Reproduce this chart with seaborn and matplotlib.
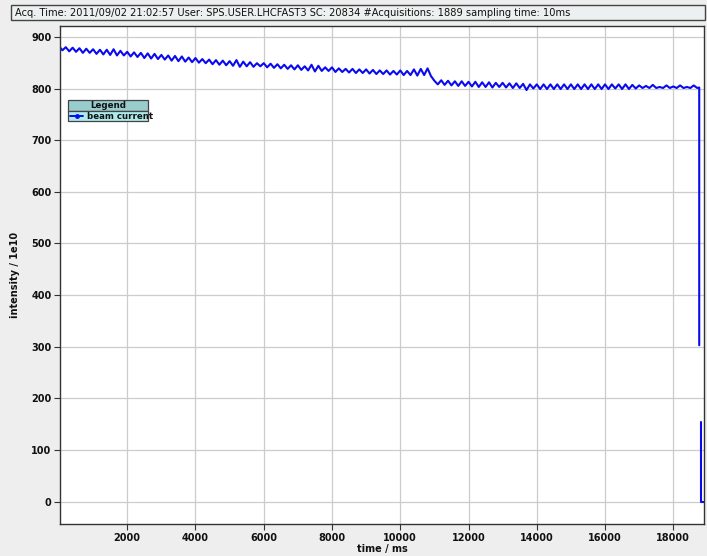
import numpy as np
import pandas as pd
import matplotlib
matplotlib.use("Agg")
import matplotlib.pyplot as plt
from matplotlib.patches import Rectangle
from matplotlib.lines import Line2D
import seaborn as sns

# ---------------- data ----------------
title_text = ("Acq. Time: 2011/09/02 21:02:57 User: SPS.USER.LHCFAST3 SC: 20834 "
              "#Acquisitions: 1889 sampling time: 10ms")
x_label = "time / ms"
y_label = "intensity / 1e10"
series_name = "beam current"

# beam current read every 100 ms (t = 0 ... 18700 ms)
current_100ms = [
    882, 874, 880, 872, 879, 871, 878, 869, 877, 869,
    876, 867, 875, 866, 875, 865, 876, 864, 873, 864,
    871, 862, 870, 861, 869, 859, 868, 858, 867, 857,
    865, 856, 864, 854, 863, 853, 862, 852, 860, 851,
    859, 850, 857, 849, 856, 847, 855, 846, 854, 845,
    853, 844, 855, 842, 852, 843, 851, 842, 849, 843,
    849, 841, 848, 840, 847, 839, 846, 838, 845, 837,
    845, 836, 843, 835, 846, 833, 844, 834, 841, 834,
    841, 832, 839, 832, 838, 831, 838, 830, 837, 830,
    837, 829, 836, 828, 835, 828, 835, 827, 834, 827,
    835, 826, 834, 826, 837, 825, 838, 826, 839, 824,
    815, 808, 816, 807, 815, 806, 814, 805, 814, 805,
    813, 804, 813, 803, 812, 803, 812, 802, 811, 803,
    811, 802, 810, 801, 810, 801, 809, 797, 808, 800,
    808, 799, 808, 799, 808, 799, 808, 799, 808, 799,
    808, 799, 808, 799, 808, 799, 808, 799, 808, 799,
    808, 799, 808, 800, 808, 799, 808, 799, 807, 800,
    806, 801, 805, 801, 807, 801, 803, 801, 806, 801,
    804, 801, 806, 801, 803, 801, 806, 801,
]
sample_step_ms = 100
# beam dump at the end of the cycle (two separate drawn pieces)
dump1_t = [18760, 18760]
dump1_v = [802, 303]
dump2_t = [18800, 18800, 18890]
dump2_v = [155, 0, 0]

x_ticks = [2000, 4000, 6000, 8000, 10000, 12000, 14000, 16000, 18000]
y_ticks = [0, 100, 200, 300, 400, 500, 600, 700, 800, 900]

# ---------------- build table ----------------
t_main = list(np.arange(len(current_100ms)) * sample_step_ms)
t_all = t_main + dump1_t + dump2_t
v_all = current_100ms + dump1_v + dump2_v
seg = ([0] * (len(t_main) + len(dump1_t))) + [1] * len(dump2_t)
df = pd.DataFrame({"t": t_all, "v": v_all, "seg": seg})

# ---------------- figure ----------------
W, H = 707, 556
DPI = 100
sns.set_theme(style="white")
plt.rcParams["font.family"] = ["DejaVu Sans"]
fig = plt.figure(figsize=(W / DPI, H / DPI), dpi=DPI, facecolor="#eeeeee")

def fx(px):
    return px / W

def fy(py):
    return 1 - py / H

ax_l, ax_r, ax_t, ax_b = 60, 704, 26, 524
ax = fig.add_axes([fx(ax_l), fy(ax_b), (ax_r - ax_l) / W, (ax_b - ax_t) / H])
ax.set_facecolor("white")

blue = "#0a0af0"
sns.lineplot(data=df, x="t", y="v", units="seg", estimator=None, sort=False,
             color=blue, linewidth=1.5, ax=ax, legend=False)

ax.set_xlim(30, 18900)
ax.set_ylim(-43, 921)
ax.set_xticks(x_ticks)
ax.set_yticks(y_ticks)
ax.set_xticklabels([str(v) for v in x_ticks], fontsize=7, fontweight="bold")
ax.set_yticklabels([str(v) for v in y_ticks], fontsize=7, fontweight="bold")
ax.tick_params(axis="both", direction="out", length=4, width=0.8, color="#333333",
               labelcolor="#111111", left=True, bottom=True)
ax.tick_params(axis="x", pad=2.5)
ax.tick_params(axis="y", pad=2)
ax.grid(True, color="#cccccc", linewidth=0.9)
ax.set_axisbelow(True)
for s in ax.spines.values():
    s.set_color("#333333")
    s.set_linewidth(1.0)
    s.set_visible(True)

ax.set_xlabel(x_label, fontsize=7, fontweight="bold", color="#111111", labelpad=1)
ax.set_ylabel(y_label, fontsize=7, fontweight="bold", color="#111111", labelpad=8)

# ---------------- title bar ----------------
bar = Rectangle((fx(11), fy(20)), fx(705) - fx(11), fy(5) - fy(20),
                transform=fig.transFigure, facecolor="#edf0f0", edgecolor="#444444",
                linewidth=1.0)
fig.patches.append(bar)
tt = fig.text(fx(15), fy(12.8), title_text, fontsize=8, color="#111111",
              va="center", ha="left")
fig.canvas.draw()
r = fig.canvas.get_renderer()
w = tt.get_window_extent(renderer=r).width
tt.set_fontsize(8 * 558 / w)

# ---------------- legend box ----------------
lx0, lx1 = 68, 148
ly0, ly1, ly2 = 100, 110.5, 121
fig.patches.append(Rectangle((fx(lx0), fy(ly1)), fx(lx1) - fx(lx0), fy(ly0) - fy(ly1),
                             transform=fig.transFigure, facecolor="#99cccc",
                             edgecolor="#444444", linewidth=0.9, zorder=10))
fig.patches.append(Rectangle((fx(lx0), fy(ly2)), fx(lx1) - fx(lx0), fy(ly1) - fy(ly2),
                             transform=fig.transFigure, facecolor="#aeeaea",
                             edgecolor="#444444", linewidth=0.9, zorder=10))
fig.text(fx((lx0 + lx1) / 2), fy((ly0 + ly1) / 2 + 0.3), "Legend", fontsize=6.3,
         fontweight="bold", color="#111111", ha="center", va="center", zorder=11)
fig.lines.append(Line2D([fx(70), fx(83)], [fy((ly1 + ly2) / 2)] * 2,
                        transform=fig.transFigure, color=blue, linewidth=1.4,
                        zorder=11))
fig.lines.append(Line2D([fx(76.5)], [fy((ly1 + ly2) / 2)], transform=fig.transFigure,
                        color=blue, marker="o", markersize=2.5, zorder=11))
fig.text(fx(87), fy((ly1 + ly2) / 2 + 0.3), series_name, fontsize=6.2,
         fontweight="bold", color="#111111", ha="left", va="center", zorder=11)

fig.savefig("out.png", dpi=DPI, facecolor=fig.get_facecolor())
